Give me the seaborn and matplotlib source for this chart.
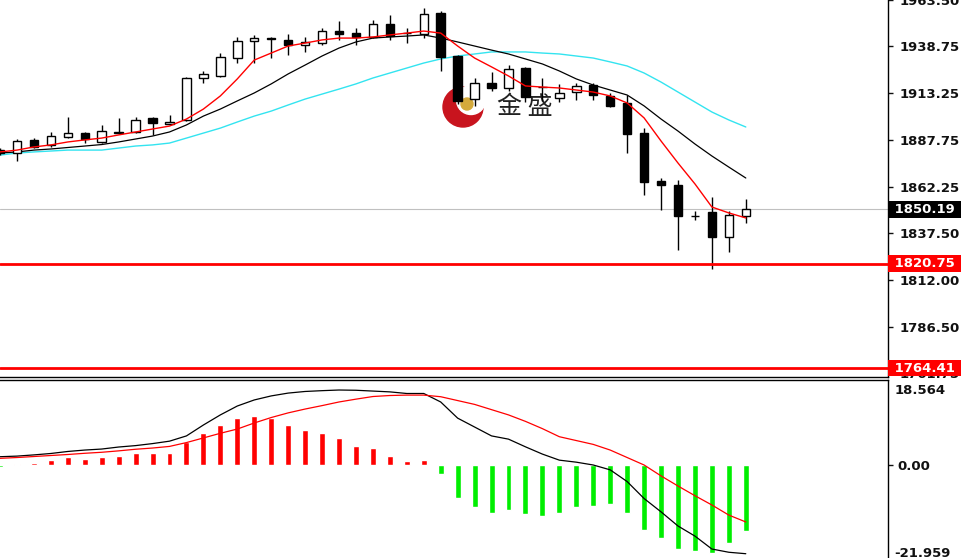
import numpy as np
import pandas as pd
import seaborn as sns
import matplotlib.pyplot as plt
import matplotlib.transforms as mtransforms
from matplotlib.patches import Circle

# candle data
opens = [1882.3, 1880.7, 1887.8, 1885.1, 1889.4, 1891.5, 1886.7, 1891.5, 1892.1, 1899.7,
         1896.4, 1898.6, 1921.3, 1922.4, 1932.1, 1941.3, 1942.9, 1941.9, 1939.2, 1940.2,
         1946.7, 1945.6, 1943.5, 1950.5, 1945.6, 1945.1, 1956.5, 1933.2, 1909.9, 1918.6,
         1915.9, 1926.7, 1916.2, 1910.5, 1913.7, 1917.5, 1911.6, 1907.8, 1891.5, 1865.6,
         1863.4, 1846.6, 1848.8, 1835.3, 1846.6]
highs = [1883.4, 1888.3, 1888.8, 1892.1, 1900.2, 1892.1, 1895.9, 1899.7, 1900.2, 1900.2,
         1901.3, 1921.8, 1925.1, 1934.8, 1943.5, 1944.6, 1943.5, 1945.1, 1943.5, 1948.4,
         1952.1, 1948.4, 1952.7, 1955.4, 1948.4, 1959.2, 1957.5, 1933.7, 1921.3, 1924.5,
         1928.3, 1927.3, 1921.3, 1918.1, 1918.6, 1918.6, 1913.2, 1912.1, 1894.3, 1867.2,
         1866.1, 1849.3, 1856.9, 1849.3, 1855.8]
lows = [1879.6, 1876.4, 1883.4, 1884.0, 1888.8, 1886.1, 1886.1, 1891.0, 1891.5, 1890.5,
        1895.9, 1898.0, 1918.6, 1921.8, 1929.4, 1929.4, 1932.1, 1933.7, 1935.4, 1939.2,
        1941.9, 1939.2, 1942.9, 1941.9, 1940.2, 1942.9, 1925.1, 1907.2, 1906.2, 1914.3,
        1914.3, 1908.3, 1908.9, 1908.3, 1909.4, 1909.4, 1905.6, 1880.7, 1858.0, 1849.9,
        1828.2, 1844.5, 1818.0, 1827.2, 1842.9]
closes = [1880.7, 1887.2, 1884.0, 1889.9, 1891.5, 1888.3, 1892.6, 1892.1, 1898.6, 1897.0,
          1897.5, 1921.3, 1923.5, 1932.7, 1941.3, 1942.9, 1942.4, 1939.2, 1940.8, 1946.7,
          1945.1, 1943.5, 1950.5, 1944.0, 1945.4, 1955.9, 1932.7, 1908.9, 1918.6, 1915.9,
          1926.2, 1911.0, 1916.6, 1913.2, 1917.0, 1912.1, 1906.2, 1891.0, 1865.0, 1863.4,
          1846.6, 1846.4, 1835.3, 1847.2, 1850.19]

# moving averages
ma_fast = [1881.3, 1882.3, 1884.0, 1885.1, 1886.7, 1887.8, 1888.8, 1890.5, 1892.1, 1893.7,
           1895.3, 1899.1, 1904.5, 1911.6, 1920.8, 1931.0, 1934.8, 1938.6, 1940.2, 1941.9,
           1942.9, 1942.9, 1943.5, 1944.6, 1945.6, 1946.7, 1945.6, 1938.6, 1932.1, 1927.3,
           1922.4, 1917.0, 1916.4, 1915.9, 1914.8, 1913.7, 1911.6, 1907.8, 1899.7, 1887.2,
           1875.3, 1864.0, 1851.5, 1848.3, 1845.6]
ma_mid = [1880.7, 1881.3, 1882.3, 1882.9, 1883.7, 1884.5, 1885.3, 1886.7, 1888.3, 1889.9,
          1892.1, 1895.9, 1900.7, 1904.5, 1908.9, 1913.2, 1918.1, 1923.5, 1928.3, 1933.2,
          1937.5, 1940.8, 1942.9, 1943.5, 1944.0, 1944.6, 1942.9, 1940.8, 1938.6, 1936.4,
          1934.3, 1931.6, 1928.9, 1925.1, 1920.8, 1917.5, 1914.8, 1912.1, 1906.2, 1899.1,
          1892.6, 1885.6, 1879.1, 1873.1, 1867.2]
ma_slow = [1879.6, 1880.7, 1881.3, 1881.8, 1882.3, 1882.3, 1882.3, 1883.4, 1884.5, 1885.1,
           1886.1, 1888.8, 1891.5, 1894.2, 1897.5, 1900.7, 1903.4, 1906.7, 1909.9, 1912.6,
           1915.3, 1918.1, 1921.3, 1924.0, 1926.7, 1929.4, 1931.6, 1933.2, 1934.3, 1935.4,
           1935.4, 1935.4, 1934.8, 1934.3, 1933.2, 1932.1, 1930.0, 1927.8, 1924.0, 1919.1,
           1913.7, 1908.3, 1902.9, 1898.6, 1894.8]

# MACD panel
macd_main = [2.05, 2.2, 2.5, 2.85, 3.35, 3.7, 3.95, 4.45, 4.8, 5.3,
             5.9, 7.2, 9.9, 12.4, 14.6, 16.1, 17.1, 17.8, 18.2, 18.4,
             18.56, 18.5, 18.3, 18.1, 17.7, 17.7, 15.6, 11.6, 9.4, 7.2,
             6.4, 4.5, 2.7, 1.2, 0.7, 0.0, -1.2, -4.1, -8.3, -11.6,
             -15.1, -17.6, -20.8, -21.6, -21.96]
macd_signal = [1.65, 1.85, 2.1, 2.35, 2.6, 2.9, 3.15, 3.5, 3.9, 4.2,
               4.6, 5.55, 6.7, 7.85, 8.9, 10.4, 11.75, 12.9, 13.85, 14.7,
               15.6, 16.3, 16.95, 17.2, 17.3, 17.3, 16.9, 15.95, 15.0, 13.7,
               12.4, 10.8, 9.0, 7.0, 6.05, 5.1, 3.7, 1.85, 0.0, -2.7,
               -5.2, -7.6, -9.9, -12.4, -14.1]
macd_hist = [-0.5, 0.3, 0.6, 1.2, 2.0, 1.6, 2.0, 2.3, 3.0, 3.0,
             3.0, 5.8, 7.8, 10.0, 11.7, 12.1, 11.7, 10.0, 8.7, 7.8,
             6.6, 4.8, 4.1, 2.3, 1.0, 1.2, -2.3, -8.2, -10.5, -11.8,
             -11.1, -12.2, -12.5, -11.8, -10.5, -10.1, -9.7, -11.8, -16.1, -18.1,
             -20.9, -21.2, -21.9, -19.4, -16.3]

price_ticks = [1963.50, 1938.75, 1913.25, 1887.75, 1862.25, 1837.50, 1812.00, 1786.50, 1761.75]
last_price = 1850.19
levels = [1820.75, 1764.41]
macd_max, macd_min = 18.564, -21.959

df = pd.DataFrame({'idx': np.arange(len(opens)), 'open': opens, 'high': highs,
                   'low': lows, 'close': closes, 'ma_fast': ma_fast,
                   'ma_mid': ma_mid, 'ma_slow': ma_slow, 'macd': macd_main,
                   'signal': macd_signal, 'hist': macd_hist})

sns.set_style("white")
plt.rcParams['font.family'] = ['DejaVu Sans', 'Noto Sans CJK SC']

lbl = dict(fontsize=9.5, fontweight='bold')

fig = plt.figure(figsize=(9.62, 5.58), dpi=100)
fig.patch.set_facecolor('white')

# watermark logo (drawn beneath the chart)
logo = fig.add_axes([0, 0, 1, 1], zorder=-1)
logo.set_xlim(0, 962)
logo.set_ylim(558, 0)
logo.axis('off')
logo.add_patch(Circle((463, 107), 20, color='#c8141e'))
logo.add_patch(Circle((471, 100), 14.5, color='white'))
logo.add_patch(Circle((467, 104), 6, color='#d4aa3c'))
logo.text(525, 107, '金 盛', fontsize=18, color='#222222', ha='center', va='center',
          family=['Noto Sans CJK SC', 'DejaVu Sans'])

ax1 = fig.add_axes([0, 1 - 377 / 558, 888 / 962, 377 / 558])
ax2 = fig.add_axes([0, 0, 888 / 962, 1 - 380 / 558])
for ax in (ax1, ax2):
    ax.set_facecolor('none')

# candles
up = df['close'] >= df['open']
ax1.vlines(df['idx'], df['low'], df['high'], color='black', lw=1, zorder=3)
body_h = (df['close'] - df['open']).abs().clip(lower=0.35)
ax1.bar(df['idx'], body_h, bottom=df[['open', 'close']].min(axis=1), width=0.5,
        color=np.where(up, 'white', 'black'), edgecolor='black', linewidth=1, zorder=4)

sns.lineplot(data=df, x='idx', y='ma_slow', color='#33e4f0', lw=1, ax=ax1, zorder=2)
sns.lineplot(data=df, x='idx', y='ma_mid', color='black', lw=0.9, ax=ax1, zorder=2)
sns.lineplot(data=df, x='idx', y='ma_fast', color='red', lw=1, ax=ax1, zorder=5)

ax1.axhline(last_price, color='#c0c0c0', lw=0.8, zorder=1)
for lv in levels:
    ax1.axhline(lv, color='#ff0000', lw=2, zorder=6)

xmax = 888 / 16.95
ax1.set_xlim(0, xmax)
ax1.set_ylim(1963.5 - 377 * 0.541, 1963.5)
ax1.yaxis.tick_right()
ax1.set_yticks(price_ticks)
ax1.set_yticklabels(['%.2f' % t for t in price_ticks], fontweight='bold')
ax1.tick_params(axis='y', direction='out', length=3.5, width=1, labelsize=9.5, pad=5,
                colors='#111111')
ax1.set_xticks([])
ax1.set_xlabel('')
ax1.set_ylabel('')
for s in ('left', 'top'):
    ax1.spines[s].set_visible(False)
for s in ('right', 'bottom'):
    ax1.spines[s].set_color('black')
    ax1.spines[s].set_linewidth(1)

trans = mtransforms.blended_transform_factory(ax1.transAxes, ax1.transData)
ax1.text(1.0025, last_price, ' %.2f  ' % last_price, transform=trans, color='white',
         va='center', ha='left', clip_on=False, zorder=10,
         bbox=dict(boxstyle='square,pad=0.15', fc='black', ec='none'), **lbl)
for lv in levels:
    ax1.text(1.0025, lv, ' %.2f  ' % lv, transform=trans, color='white',
             va='center', ha='left', clip_on=False, zorder=10,
             bbox=dict(boxstyle='square,pad=0.15', fc='#ff0000', ec='none'), **lbl)

# MACD
ax2.bar(df['idx'], df['hist'], width=0.35,
        color=np.where(df['hist'] >= 0, '#ff0000', '#00ee00'), zorder=2)
sns.lineplot(data=df, x='idx', y='macd', color='black', lw=0.9, ax=ax2, zorder=3)
sns.lineplot(data=df, x='idx', y='signal', color='red', lw=0.9, ax=ax2, zorder=3)
ax2.set_xlim(0, xmax)
ax2.set_ylim(-(558 - 465) / 4.04, (465 - 380) / 4.04)
ax2.yaxis.tick_right()
ax2.set_yticks([0])
ax2.set_yticklabels(['0.00'], fontweight='bold')
ax2.tick_params(axis='y', direction='out', length=3.5, width=1, labelsize=9.5, pad=3,
                colors='#111111')
ax2.set_xticks([])
ax2.set_xlabel('')
ax2.set_ylabel('')
trans2 = mtransforms.blended_transform_factory(ax2.transAxes, ax2.transData)
ax2.text(1.007, macd_max, '%.3f' % macd_max, transform=trans2,
         color='#111111', va='center', ha='left', clip_on=False, **lbl)
ax2.text(1.007, macd_min, '%.3f' % macd_min, transform=trans2,
         color='#111111', va='center', ha='left', clip_on=False, **lbl)
for s in ('left', 'bottom'):
    ax2.spines[s].set_visible(False)
for s in ('right', 'top'):
    ax2.spines[s].set_color('black')
    ax2.spines[s].set_linewidth(1)

plt.savefig('out.png', dpi=100)
